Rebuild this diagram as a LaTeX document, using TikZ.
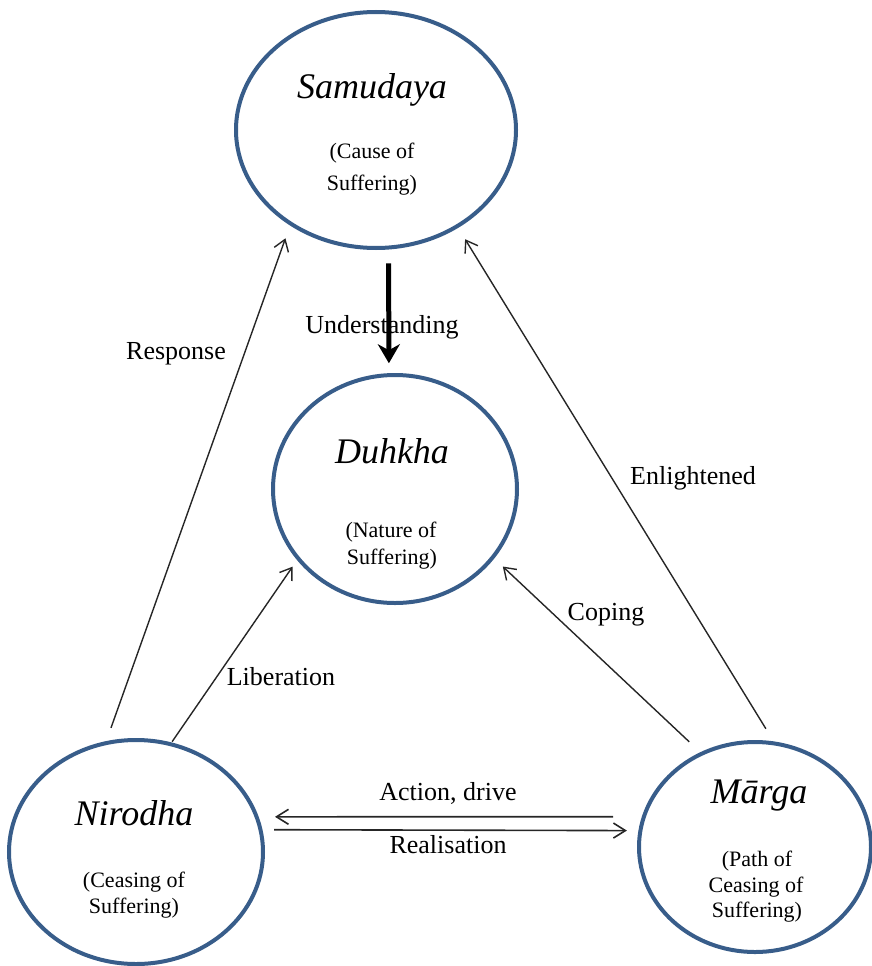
\documentclass[tikz,border=0pt]{standalone}
\usepackage{fontspec}
\setmainfont{Liberation Serif}
\usetikzlibrary{arrows.meta,shapes.geometric}
\definecolor{ringblue}{RGB}{56,93,138}

\begin{document}
\begin{tikzpicture}[x=1pt,y=-1pt,
  ring/.style={ellipse, draw=ringblue, line width=4pt, inner sep=0pt},
  title/.style={anchor=base, inner sep=0pt, font=\fontsize{36}{40}\selectfont\itshape},
  sub/.style={anchor=base, inner sep=0pt, font=\fontsize{22}{26}\selectfont},
  lbl/.style={anchor=base, inner sep=0pt, font=\fontsize{26}{30}\selectfont},
  link/.style={draw=black!85, line width=1.4pt, -{Straight Barb[length=11pt,width=15pt]}},
  pair/.style={draw=black!85, line width=1.6pt, -{Straight Barb[length=12pt,width=15pt]}},
  bold/.style={draw=black, line width=5pt, -{Stealth[length=19pt,width=22pt,inset=6pt]}}
]
\useasboundingbox (0,0) rectangle (872,966);

% the four truths
\node[ring, minimum width=280pt, minimum height=236pt] (sam) at (376,130) {};
\node[ring, minimum width=244pt, minimum height=228pt] (duh) at (395,489) {};
\node[ring, minimum width=254pt, minimum height=224pt] (nir) at (136,852) {};
\node[ring, minimum width=232pt, minimum height=210pt] (mar) at (755,847) {};

% names and glosses
\node[title] (samT) at (372,98) {Samudaya};
\node[sub] (samA) at (372,158) {(Cause of};
\node[sub] (samB) at (372,190) {Suffering)};

\node[title] (duhT) at (392,463) {Duhkha};
\node[sub] (duhA) at (391,537) {(Nature of};
\node[sub] (duhB) at (392,564) {Suffering)};

\node[title] (nirT) at (134,825) {Nirodha};
\node[sub] (nirA) at (134,887) {(Ceasing of};
\node[sub] (nirB) at (134,913) {Suffering)};

\node[title] (marT) at (759,803) {Mārga};
\node[sub] (marA) at (757,866) {(Path of};
\node[sub] (marB) at (756,892) {Ceasing of};
\node[sub] (marC) at (757,917) {Suffering)};

% connectors
\draw[bold, shorten <=13.8pt, shorten >=9.9pt] (sam.276) -- (duh.93);
\draw[link, shorten <=14pt, shorten >=13.6pt] (nir.105) -- (sam.228);
\draw[link, shorten <=14.8pt, shorten >=13.3pt] (mar.80) -- (sam.310);
\draw[link, shorten <=0.9pt, shorten >=7.9pt] (nir.72) -- (duh.216);
\draw[link, shorten <=15.2pt, shorten >=11.7pt] (mar.120) -- (duh.325);
\draw[pair, shorten <=28.7pt, shorten >=16.3pt] (mar.165) -- (nir.16);
\draw[pair, shorten <=11.5pt, shorten >=11.5pt] (nir.10) -- (mar.172);

% connector labels
\node[lbl] (lUnd) at (382,333) {Understanding};
\node[lbl] (lRes) at (176,359) {Response};
\node[lbl] (lEnl) at (693,484) {Enlightened};
\node[lbl] (lLib) at (281,685) {Liberation};
\node[lbl] (lCop) at (606,620) {Coping};
\node[lbl] (lAct) at (448,800) {Action, drive};
\node[lbl] (lRea) at (448,853) {Realisation};
\end{tikzpicture}
\end{document}
